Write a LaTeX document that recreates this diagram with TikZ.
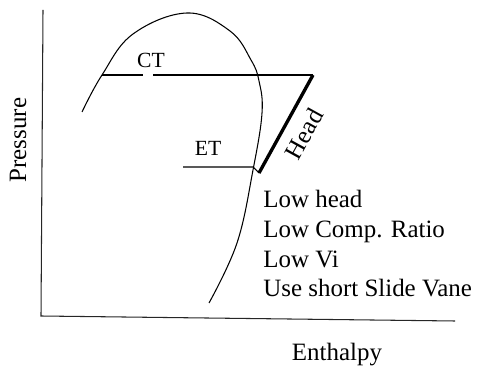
\documentclass[tikz,border=0pt]{standalone}
\usepackage{fontspec}
\setmainfont{Liberation Serif}
\usepackage{tikz}
\usetikzlibrary{positioning,calc}

\begin{document}
\begin{tikzpicture}[
  x=0.02cm, y=0.02cm,
  font=\fontsize{14.2}{17}\selectfont,
  axis/.style={line width=0.6pt,black!85},
  curve/.style={line width=0.6pt,black},
  level/.style={line width=0.6pt,black},
  head/.style={line width=1.9pt,black},
  small/.style={font=\fontsize{12.3}{14}\selectfont},
  note/.style={anchor=base west,inner sep=0pt}
]
\useasboundingbox (0,0) rectangle (482,371);

% axes
\coordinate (top)    at (43,361);
\coordinate (origin) at (41,55);
\coordinate (right)  at (455,50);
\draw[axis] (top) -- (origin) -- (right);
\node[rotate=90] (pres) at (18,231) {Pressure};
\node (enth) at (337,16) {Enthalpy};

% saturation dome
\draw[curve] plot[smooth,tension=0.65] coordinates {
  (82,259) (102,296) (133,337) (187,358) (230,340) (251,311)
  (259,290) (262,258) (253,201) (237,128) (209,68)};

% condensing line
\coordinate (ctL) at (102,296);
\coordinate (ctA) at (143,296);
\coordinate (ctB) at (153,296);
\coordinate (ctR) at (313,296);
\draw[level] (ctL) -- (ctA);
\draw[level] (ctB) -- (ctR);
\node[small] (ct) at (151,311) {CT};

% evaporating line
\coordinate (etL) at (183,204);
\coordinate (etR) at (253,204);
\coordinate (etC) at (259,198);
\draw[level] (etL) -- (etR) -- (etC);
\node[small] (et) at (208,223) {ET};

% head
\draw[head] (etC) -- node[midway,sloped,below=2.5pt] {Head} (ctR);

% notes
\node[note] (n1) at (263,163) {Low head};
\node[note] (n2) at (263,133.3) {Low Comp. Ratio};
\node[note] (n3) at (263,103.6) {Low Vi};
\node[note] (n4) at (263,74) {Use short Slide Vane};
\end{tikzpicture}
\end{document}
